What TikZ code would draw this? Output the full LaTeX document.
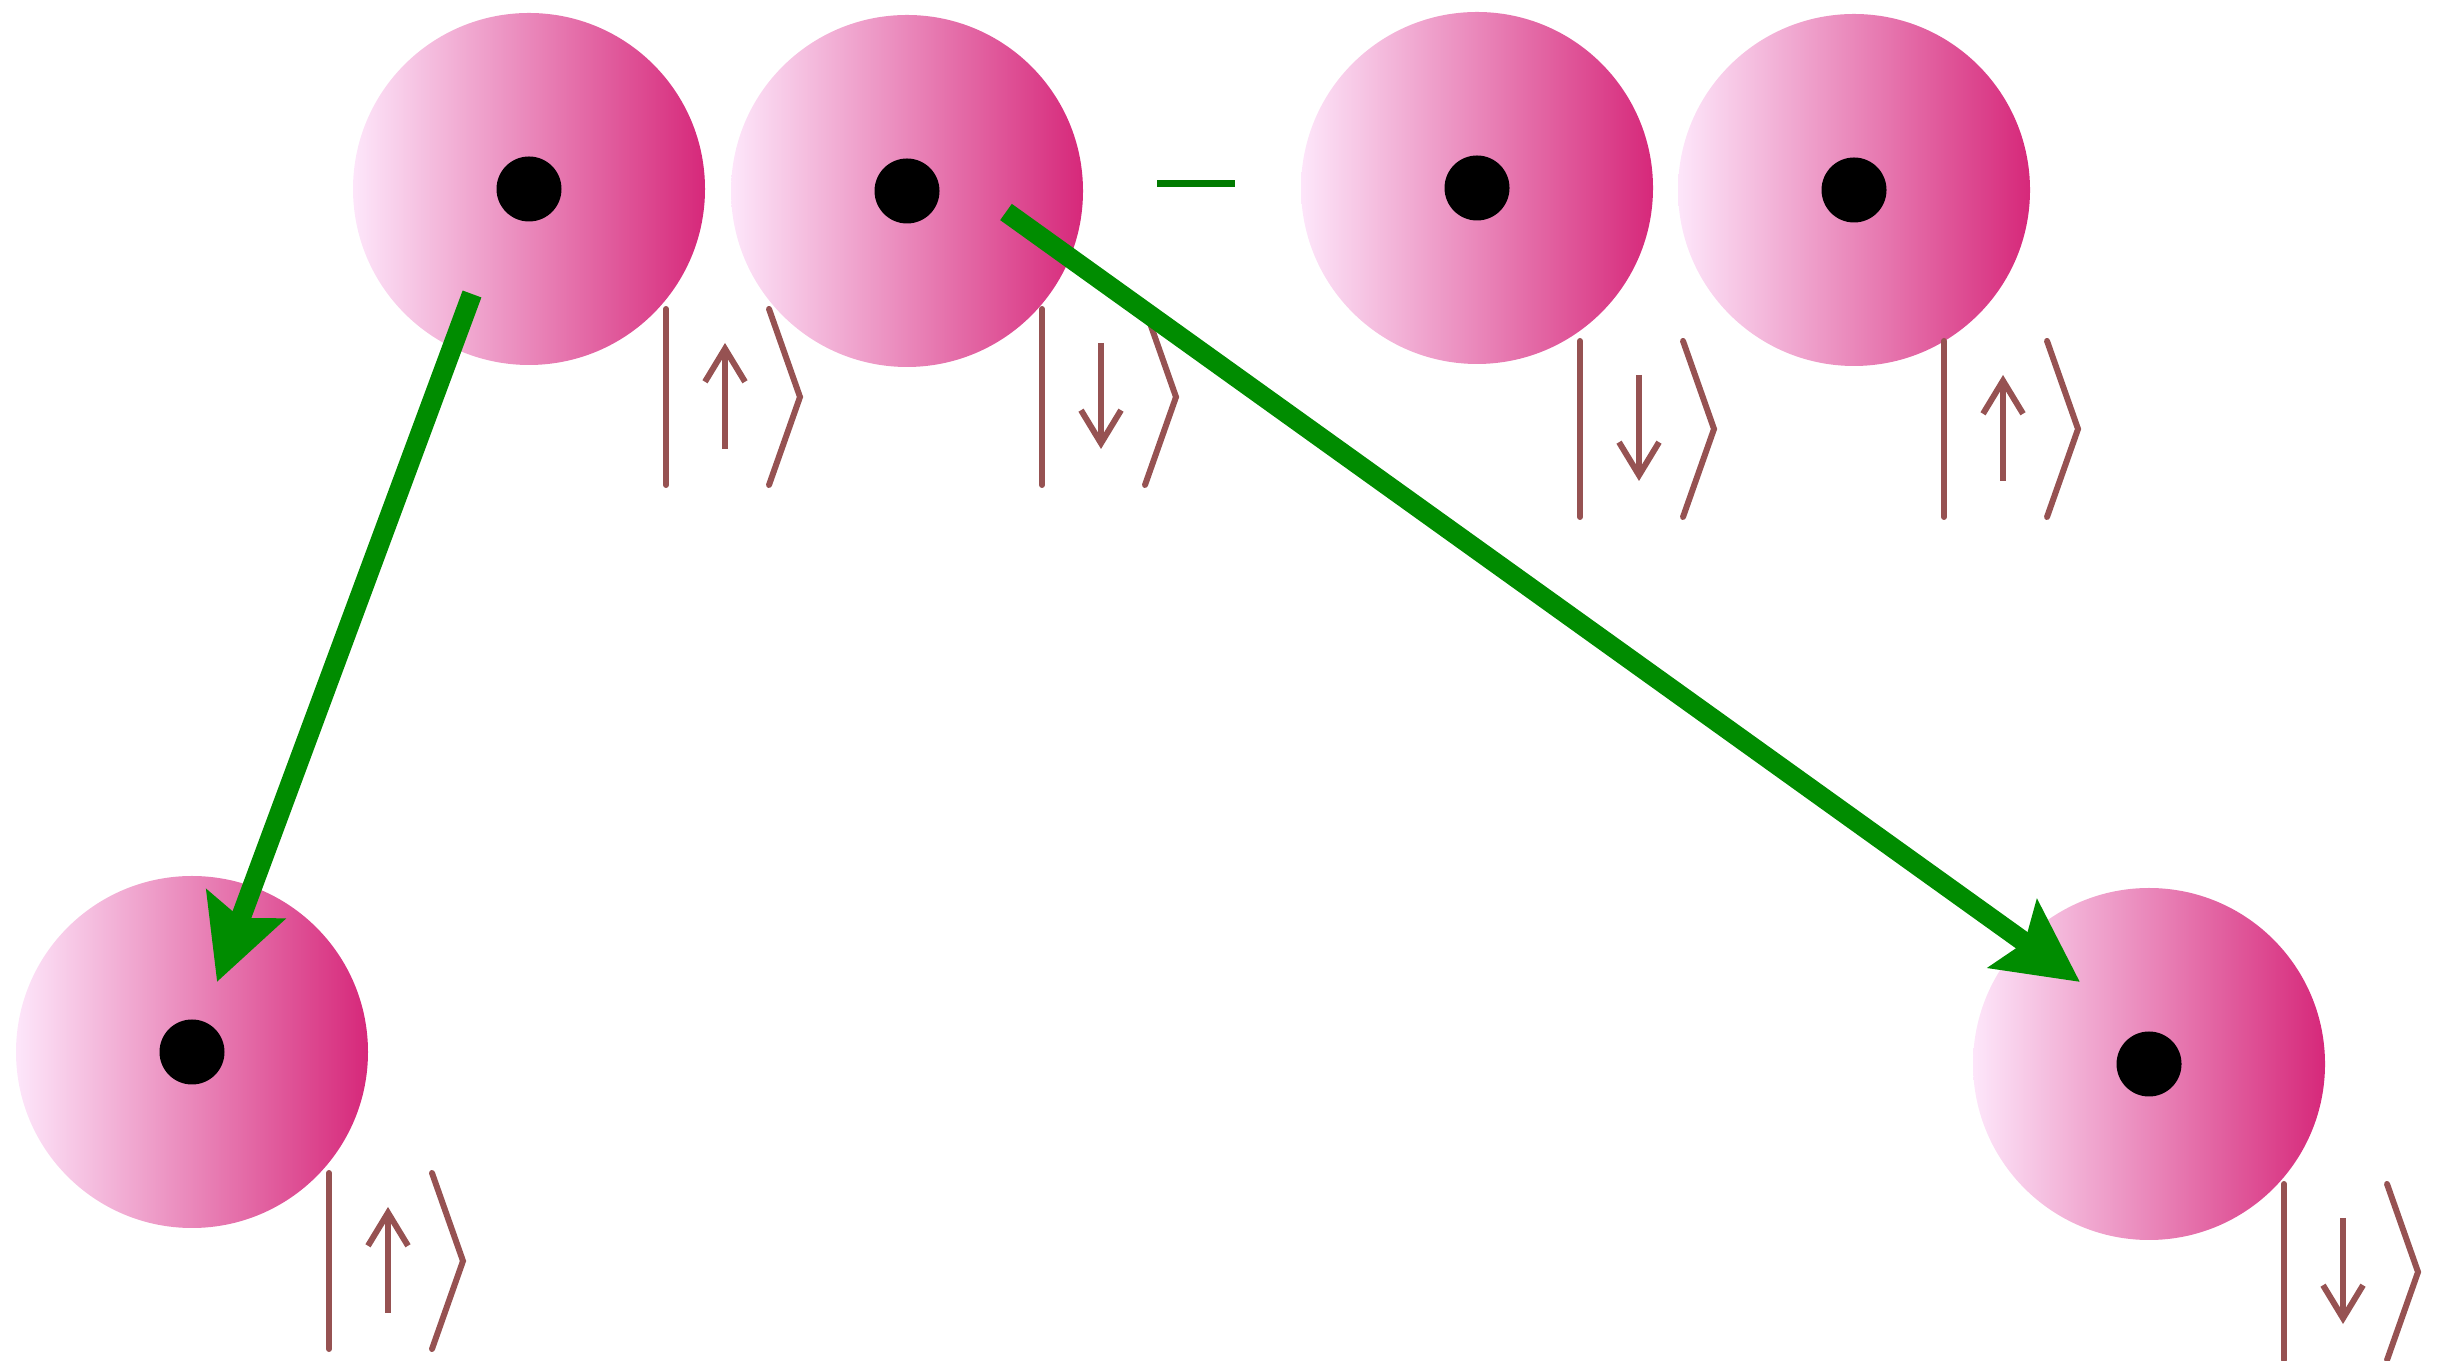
\documentclass[tikz,border=0pt]{standalone}
\usepackage{xcolor}
\usepackage{tikz}
\usetikzlibrary{arrows.meta}
\definecolor{atomlight}{RGB}{253, 230, 250}
\definecolor{atomdark}{RGB}{214, 40, 122}
\definecolor{spincol}{RGB}{150, 82, 82}
\definecolor{hopgreen}{RGB}{0, 140, 0}
\definecolor{minusgreen}{RGB}{0, 122, 0}

\begin{document}
\begin{tikzpicture}[
    atom/.style={circle, minimum size=3.52cm, inner sep=0pt, left color=atomlight, right color=atomdark},
    nucleus/.style={circle, fill=black, minimum size=0.65cm, inner sep=0pt},
    ketline/.style={draw=spincol, line width=0.06cm, line cap=round},
    spin/.style={draw=spincol, line width=0.06cm, >={Straight Barb[length=0.33cm,width=0.4cm]}},
    hop/.style={draw=hopgreen, line width=0.2cm, -{Stealth[length=0.82cm,width=0.82cm,inset=0.14cm]}},
    pics/ket/.style={code={
        \draw[ketline] (0,0) -- (0,-1.76);
        \draw[ketline] (1.03,0) -- (1.34,-0.88) -- (1.03,-1.76);
        \draw[spin, #1] (0.59,-0.34) -- (0.59,-1.40);
    }}
]
    \useasboundingbox (0,0) rectangle (24.46,13.6);

    % Top pair (first term)
    \node[atom] (c1) at (5.29,11.71) {};
    \node[atom] (c2) at (9.07,11.69) {};
    \node[nucleus] (n1) at (c1) {};
    \node[nucleus] (n2) at (c2) {};
    \pic at (6.66,10.51) {ket=<-};
    \pic at (10.42,10.51) {ket=->};

    % Minus sign
    \draw[minusgreen, line width=0.07cm] (11.57,11.76) -- (12.35,11.76);

    % Top pair (second term)
    \node[atom] (c3) at (14.77,11.72) {};
    \node[atom] (c4) at (18.54,11.70) {};
    \node[nucleus] (n3) at (c3) {};
    \node[nucleus] (n4) at (c4) {};
    \pic at (15.80,10.19) {ket=->};
    \pic at (19.44,10.19) {ket=<-};

    % Separated atoms
    \node[atom] (c5) at (1.92,3.08) {};
    \node[atom] (c6) at (21.49,2.96) {};
    \node[nucleus] (n5) at (c5) {};
    \node[nucleus] (n6) at (c6) {};
    \pic at (3.29,1.87) {ket=<-};
    \pic at (22.84,1.76) {ket=->};

    % Arrows
    \draw[hop] ([shift={(-0.57,-1.05)}]c1.center) -- ([shift={(0.25,0.70)}]c5.center);
    \draw[hop] ([shift={(0.99,-0.21)}]c2.center) -- ([shift={(-0.69,0.82)}]c6.center);
\end{tikzpicture}
\end{document}
